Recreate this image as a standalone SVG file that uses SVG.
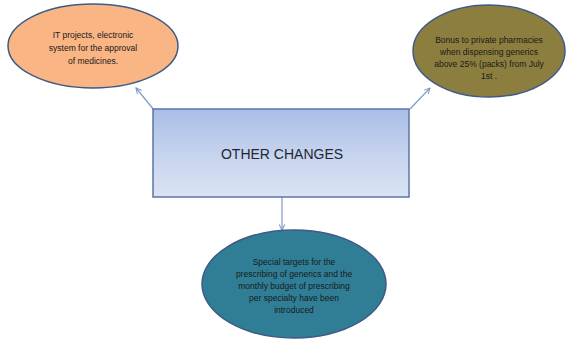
<svg xmlns="http://www.w3.org/2000/svg" width="584" height="339" viewBox="0 0 584 339">
<defs>
<linearGradient id="rg" x1="0" y1="0" x2="0" y2="1">
<stop offset="0" stop-color="#a8bde6"/>
<stop offset="0.5" stop-color="#c6d3ee"/>
<stop offset="1" stop-color="#dbe3f3"/>
</linearGradient>
<marker id="ah" viewBox="0 0 10 10" refX="9" refY="5" markerWidth="7" markerHeight="7" orient="auto" markerUnits="userSpaceOnUse">
<path d="M1,1 L9,5 L1,9" fill="none" stroke="#7f9ac8" stroke-width="1.5"/>
</marker>
<style>
.sm{font-family:"Liberation Sans",Arial,sans-serif;font-size:8.5px;text-anchor:middle;fill:#1a1a1a}
.ttl{font-family:"Liberation Sans",Arial,sans-serif;font-size:14px;text-anchor:middle;fill:#1f2633}
.conn{stroke:#7f9ac8;stroke-width:1.2;fill:none;marker-end:url(#ah)}
.node{stroke:#3f5a86;stroke-width:1.5}
</style>
</defs>
<rect width="584" height="339" fill="#ffffff"/>
<g id="connectors">
<line class="conn" x1="154" y1="110" x2="136" y2="88"/>
<line class="conn" x1="410" y1="109" x2="430" y2="88"/>
<line class="conn" x1="282" y1="197" x2="282" y2="230"/>
</g>
<g id="center">
<rect x="153" y="109" width="256" height="88" fill="url(#rg)" stroke="#5b76a6" stroke-width="1.5"/>
<text class="ttl" x="282" y="159">OTHER CHANGES</text>
</g>
<g id="left">
<ellipse class="node" cx="93" cy="46" rx="85" ry="42" fill="#f9b584"/>
<text class="sm" x="93" y="38">IT projects, electronic</text>
<text class="sm" x="93" y="51">system for the approval</text>
<text class="sm" x="93" y="64">of medicines.</text>
</g>
<g id="right">
<ellipse class="node" cx="489" cy="51" rx="76" ry="46" fill="#8c7e3f"/>
<text class="sm" x="489" y="43">Bonus to private pharmacies</text>
<text class="sm" x="489" y="55">when dispensing generics</text>
<text class="sm" x="489" y="67">above 25% (packs) from July</text>
<text class="sm" x="489" y="79">1st .</text>
</g>
<g id="bottom">
<ellipse class="node" cx="294" cy="284" rx="92" ry="54" fill="#2f7e96"/>
<text class="sm" x="294" y="265">Special targets for the</text>
<text class="sm" x="294" y="277">prescribing of generics and the</text>
<text class="sm" x="294" y="289">monthly budget of prescribing</text>
<text class="sm" x="294" y="301">per specialty have been</text>
<text class="sm" x="294" y="313">introduced</text>
</g>
</svg>
